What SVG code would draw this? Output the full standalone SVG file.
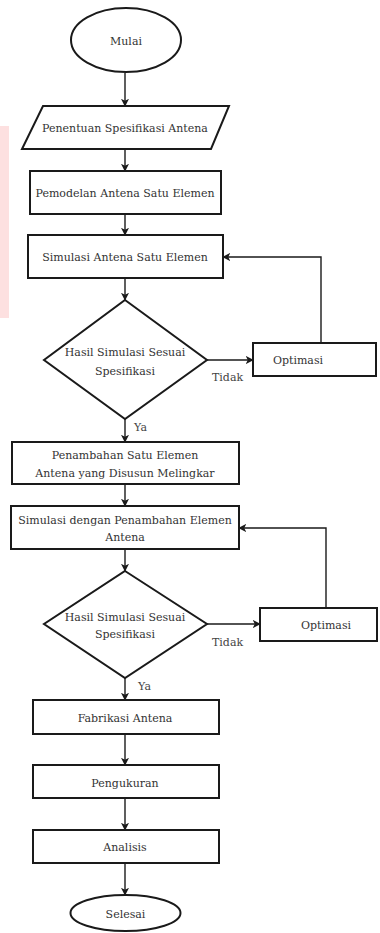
<svg xmlns="http://www.w3.org/2000/svg" width="380" height="933" viewBox="0 0 380 933">
<defs>
<style>
.s{fill:#fff;stroke:#1a1a1a;stroke-width:2}
text{font-family:'DejaVu Serif','Liberation Serif',serif;font-size:11px}
.t{fill:#333;text-anchor:middle;dominant-baseline:central}
.l{fill:#444}
.c{fill:none;stroke:#1a1a1a;stroke-width:1.4}
.a{marker-end:url(#ah)}
</style>
<marker id="ah" viewBox="0 0 10 10" refX="9" refY="5" markerWidth="8" markerHeight="8" markerUnits="userSpaceOnUse" orient="auto">
<path d="M0,0 L10,5 L0,10 L2.5,5 z" fill="#1a1a1a"/>
</marker>
</defs>
<rect x="0" y="126" width="9" height="192" fill="#fde0e0"/>
<g id="connectors">
<line class="c a" x1="125" y1="73" x2="125" y2="106"/>
<line class="c a" x1="125" y1="149" x2="125" y2="171"/>
<line class="c a" x1="125" y1="214" x2="125" y2="235"/>
<line class="c a" x1="125" y1="278" x2="125" y2="300"/>
<line class="c a" x1="207" y1="360" x2="253" y2="360"/>
<polyline class="c a" points="321,343 321,257 223,257"/>
<line class="c a" x1="125" y1="419" x2="125" y2="442"/>
<line class="c a" x1="125" y1="484" x2="125" y2="506"/>
<line class="c a" x1="125" y1="549" x2="125" y2="571"/>
<line class="c a" x1="207" y1="624" x2="260" y2="624"/>
<polyline class="c a" points="326,608 326,528 239,528"/>
<line class="c a" x1="125" y1="678" x2="125" y2="700"/>
<line class="c a" x1="125" y1="734" x2="125" y2="765"/>
<line class="c a" x1="125" y1="798" x2="125" y2="830"/>
<line class="c a" x1="125" y1="863" x2="125" y2="895"/>
<text class="l" x="212" y="381">Tidak</text>
<text class="l" x="134" y="431">Ya</text>
<text class="l" x="212" y="646">Tidak</text>
<text class="l" x="138" y="690">Ya</text>
</g>
<g id="mulai"><ellipse class="s" cx="126" cy="40" rx="55" ry="32"/><text class="t" x="126" y="41">Mulai</text></g>
<g id="spesifikasi"><polygon class="s" points="43,106 229,106 211,149 22,149"/><text class="t" x="125" y="128">Penentuan Spesifikasi Antena</text></g>
<g id="pemodelan"><rect class="s" x="30" y="171" width="191" height="43"/><text class="t" x="125" y="193">Pemodelan Antena Satu Elemen</text></g>
<g id="simulasi1"><rect class="s" x="28" y="235" width="195" height="43"/><text class="t" x="125" y="257">Simulasi Antena Satu Elemen</text></g>
<g id="keputusan1"><polygon class="s" points="125,300 207,360 125,419 44,360"/><text class="t" x="125" y="352">Hasil Simulasi Sesuai</text><text class="t" x="125" y="371">Spesifikasi</text></g>
<g id="optimasi1"><rect class="s" x="253" y="343" width="123" height="33"/><text class="t" x="298" y="360">Optimasi</text></g>
<g id="penambahan"><rect class="s" x="12" y="442" width="227" height="42"/><text class="t" x="125" y="455">Penambahan Satu Elemen</text><text class="t" x="125" y="473">Antena yang Disusun Melingkar</text></g>
<g id="simulasi2"><rect class="s" x="11" y="506" width="228" height="43"/><text class="t" x="125" y="520">Simulasi dengan Penambahan Elemen</text><text class="t" x="125" y="537">Antena</text></g>
<g id="keputusan2"><polygon class="s" points="125,571 207,624 125,678 44,624"/><text class="t" x="125" y="617">Hasil Simulasi Sesuai</text><text class="t" x="125" y="634">Spesifikasi</text></g>
<g id="optimasi2"><rect class="s" x="260" y="608" width="117" height="33"/><text class="t" x="326" y="625">Optimasi</text></g>
<g id="fabrikasi"><rect class="s" x="33" y="700" width="186" height="34"/><text class="t" x="125" y="718">Fabrikasi Antena</text></g>
<g id="pengukuran"><rect class="s" x="33" y="765" width="186" height="33"/><text class="t" x="125" y="783">Pengukuran</text></g>
<g id="analisis"><rect class="s" x="33" y="830" width="186" height="33"/><text class="t" x="125" y="847">Analisis</text></g>
<g id="selesai"><ellipse class="s" cx="125.5" cy="913" rx="55" ry="18"/><text class="t" x="125.5" y="914">Selesai</text></g>
</svg>
